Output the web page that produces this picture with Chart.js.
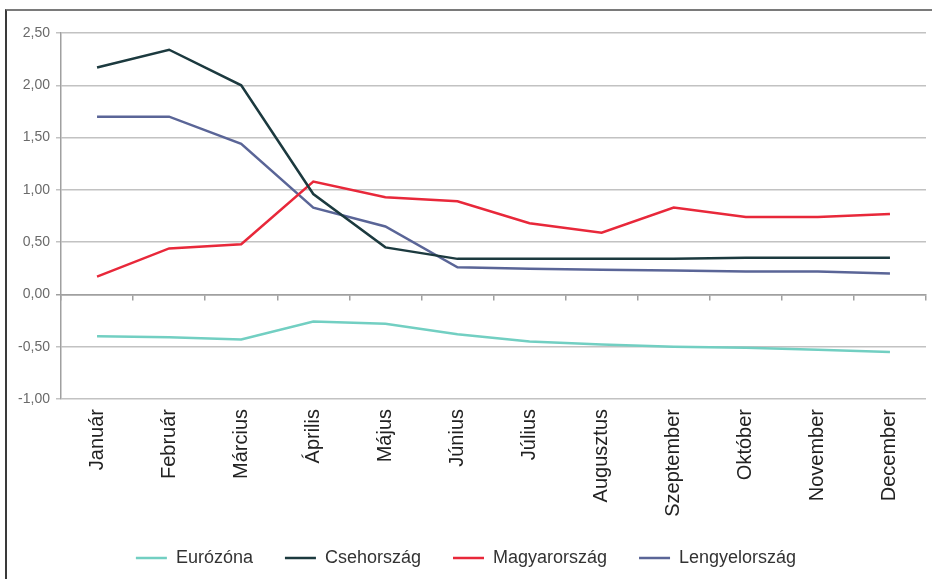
<!DOCTYPE html>
<html>
<head>
<meta charset="utf-8">
<script src="https://cdn.jsdelivr.net/npm/chart.js@4"></script>
<style>
  html, body { margin: 0; padding: 0; background: #fff; }
  #wrap { position: relative; width: 932px; height: 579px; }
  #frame { position: absolute; left: 5px; top: 9px; right: 0; bottom: 0;
           border-top: 2px solid #7a7a7a; border-left: 2px solid #3a3a3a; }
  canvas { position: absolute; left: 0; top: 0; }
</style>
</head>
<body>
<div id="wrap">
  <div id="frame"></div>
  <canvas id="chart" width="932" height="579"></canvas>
</div>
<script>
const months = ["Január", "Február", "Március", "Április", "Május", "Június",
  "Július", "Augusztus", "Szeptember", "Október", "November", "December"];

const eurozona = [-0.40, -0.41, -0.43, -0.26, -0.28, -0.38, -0.45, -0.48, -0.50, -0.51, -0.53, -0.55];
const cseh = [2.17, 2.34, 2.00, 0.96, 0.45, 0.34, 0.34, 0.34, 0.34, 0.35, 0.35, 0.35];
const magyar = [0.17, 0.44, 0.48, 1.08, 0.93, 0.89, 0.68, 0.59, 0.83, 0.74, 0.74, 0.77];
const lengyel = [1.70, 1.70, 1.44, 0.83, 0.65, 0.26, 0.245, 0.235, 0.23, 0.22, 0.22, 0.20];

const font = "'Liberation Sans', Arial, sans-serif";

function series(label, data, color) {
  return {
    label: label,
    data: data,
    borderColor: color,
    backgroundColor: color,
    borderWidth: 2.5,
    pointRadius: 0,
    tension: 0,
  };
}

new Chart(document.getElementById("chart"), {
  type: "line",
  data: {
    labels: months,
    datasets: [
      series("Eurózóna", eurozona, "#72cfc2"),
      series("Csehország", cseh, "#1c3a3f"),
      series("Magyarország", magyar, "#e8283a"),
      series("Lengyelország", lengyel, "#5a6597"),
    ],
  },
  options: {
    responsive: false,
    animation: false,
    layout: { padding: { left: 6, right: 6, top: 33, bottom: 2 } },
    plugins: {
      tooltip: { enabled: false },
      legend: {
        position: "bottom",
        labels: {
          usePointStyle: true,
          pointStyle: "line",
          pointStyleWidth: 31,
          boxHeight: 18,
          padding: 32,
          color: "#333",
          font: { family: font, size: 18 },
        },
      },
    },
    scales: {
      x: {
        offset: true,
        grid: { display: false, drawTicks: false },
        border: { display: false },
        ticks: {
          minRotation: 90,
          maxRotation: 90,
          padding: 10,
          color: "#222",
          font: { family: font, size: 20 },
        },
        afterFit: (scale) => { scale.height = 118; },
      },
      x2: {
        type: "category",
        position: { y: 0 },
        offset: true,
        grid: { offset: true, drawOnChartArea: false, tickLength: 5, color: "#a0a0a0", lineWidth: 1.5 },
        border: { color: "#a0a0a0", width: 1.5 },
        ticks: { display: false },
      },
      y: {
        min: -1,
        max: 2.5,
        ticks: {
          stepSize: 0.5,
          padding: 6,
          color: "#6a6a6a",
          font: { family: font, size: 14 },
          callback: (v) => v.toFixed(2).replace(".", ","),
        },
        grid: {
          tickLength: 5,
          lineWidth: 1.5,
          color: (ctx) => (ctx.tick && ctx.tick.value === 0 ? "#a0a0a0" : "#c2c2c2"),
        },
        border: { color: "#a0a0a0", width: 1.5 },
        afterFit: (scale) => { scale.width = 55; },
      },
    },
  },
});
</script>
</body>
</html>
